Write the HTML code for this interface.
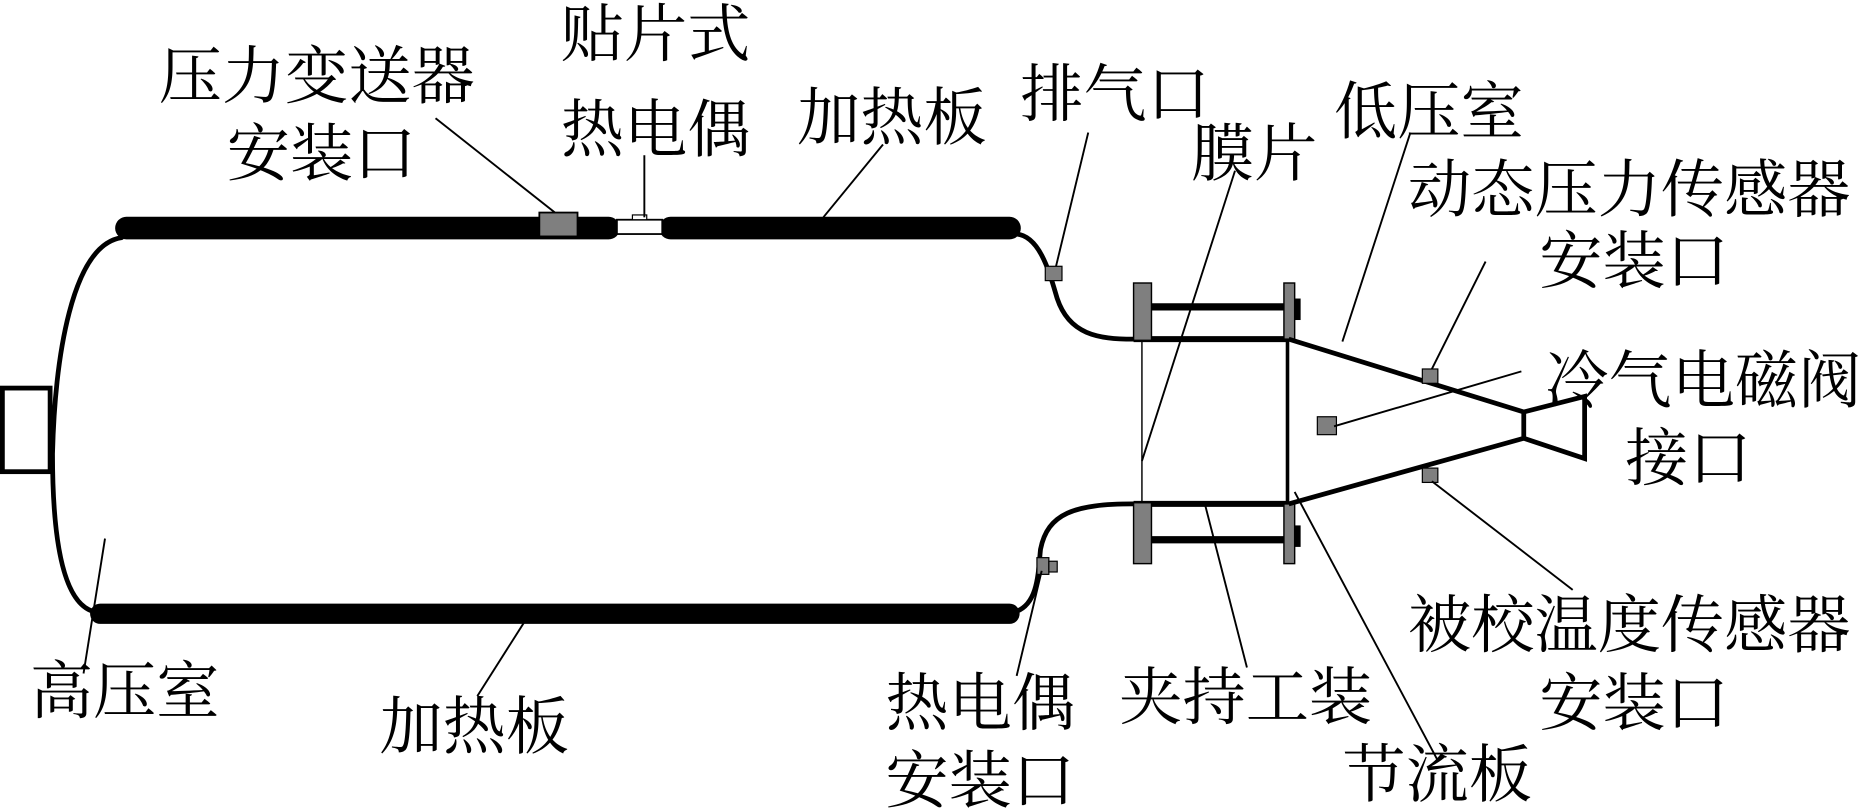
<!DOCTYPE html>
<html><head><meta charset="utf-8"><style>
html,body{margin:0;padding:0;background:#fff;width:1871px;height:812px;overflow:hidden}
svg{display:block}
text{font-family:"Liberation Serif","Noto Serif CJK SC",serif;font-size:53px;fill:#000}
</style></head><body>
<svg width="1871" height="812" viewBox="0 0 1568 680" preserveAspectRatio="none">
<g fill="none" stroke="#000" stroke-linecap="round">
<!-- vessel outline -->
<path d="M852,196 C872,198 880,230 886,250 C896,280 920,284 950,284" stroke-width="4"/>
<path d="M102,199 C60,205 46,300 44,380 C44,460 55,505 78,512" stroke-width="4"/>
<path d="M852,512 C870,505 870,480 872,460 C878,430 900,422 950,422" stroke-width="4"/>
<!-- heater bars -->
<line x1="106" y1="191" x2="510" y2="191" stroke-width="19"/>
<line x1="562" y1="191" x2="846" y2="191" stroke-width="19"/>
<line x1="84" y1="514" x2="846" y2="514" stroke-width="17"/>
</g>
<!-- left box -->
<rect x="2" y="325" width="40" height="70" fill="#fff" stroke="#000" stroke-width="4"/>
<!-- top sensors -->
<rect x="452" y="178" width="32" height="20" fill="#7f7f7f" stroke="#000" stroke-width="1.5"/>
<rect x="517" y="184" width="38" height="12" fill="#fff" stroke="#000" stroke-width="1.5"/>
<rect x="530" y="180" width="12" height="4" fill="#fff" stroke="#000" stroke-width="1"/>
<!-- vent & thermocouple ports -->
<rect x="876" y="223" width="14" height="12" fill="#7f7f7f" stroke="#000" stroke-width="1"/>
<rect x="869" y="467" width="10" height="14" fill="#7f7f7f" stroke="#000" stroke-width="1"/>
<rect x="879" y="470" width="7" height="9" fill="#7f7f7f" stroke="#000" stroke-width="1"/>
<!-- clamp -->
<g stroke="#000">
<line x1="950" y1="284" x2="1080" y2="284" stroke-width="5"/>
<line x1="950" y1="422" x2="1080" y2="422" stroke-width="5"/>
<line x1="965" y1="257" x2="1076" y2="257" stroke-width="6"/>
<line x1="965" y1="452" x2="1076" y2="452" stroke-width="6"/>
<line x1="957" y1="284" x2="957" y2="422" stroke-width="1.2"/>
<line x1="1079" y1="284" x2="1079" y2="422" stroke-width="3"/>
</g>
<rect x="950" y="237" width="15" height="48" fill="#7f7f7f" stroke="#000" stroke-width="1.2"/>
<rect x="950" y="421" width="15" height="51" fill="#7f7f7f" stroke="#000" stroke-width="1.2"/>
<rect x="1076" y="237" width="9" height="47" fill="#7f7f7f" stroke="#000" stroke-width="1.2"/>
<rect x="1076" y="422" width="9" height="50" fill="#7f7f7f" stroke="#000" stroke-width="1.2"/>
<rect x="1085" y="250" width="5" height="18" fill="#000"/>
<rect x="1085" y="440" width="5" height="18" fill="#000"/>
<!-- cone & nozzle -->
<path d="M1080,284 L1277,345 L1277,367 L1080,422" fill="none" stroke="#000" stroke-width="4"/>
<path d="M1277,345 L1328,332 L1328,384 L1277,367" fill="none" stroke="#000" stroke-width="4"/>
<rect x="1192" y="309" width="13" height="12" fill="#7f7f7f" stroke="#000" stroke-width="1"/>
<rect x="1192" y="392" width="13" height="12" fill="#7f7f7f" stroke="#000" stroke-width="1"/>
<rect x="1104" y="349" width="16" height="15" fill="#7f7f7f" stroke="#000" stroke-width="1"/>
<!-- leader lines -->
<g stroke="#000" stroke-width="1.6">
<line x1="365" y1="99" x2="465" y2="178"/>
<line x1="540" y1="130" x2="540" y2="182"/>
<line x1="740" y1="121" x2="690" y2="182"/>
<line x1="912" y1="111" x2="885" y2="223"/>
<line x1="1035" y1="143" x2="957" y2="386"/>
<line x1="1182" y1="111" x2="1125" y2="286"/>
<line x1="1245" y1="219" x2="1200" y2="309"/>
<line x1="1275" y1="311" x2="1118" y2="357"/>
<line x1="1200" y1="403" x2="1318" y2="494"/>
<line x1="1085" y1="412" x2="1205" y2="637"/>
<line x1="1010" y1="423" x2="1045" y2="559"/>
<line x1="873" y1="478" x2="852" y2="566"/>
<line x1="440" y1="520" x2="400" y2="583"/>
<line x1="88" y1="451" x2="70" y2="564"/>
</g>
<!-- labels -->
<text x="133" y="82">压力变送器</text>
<text x="190" y="147">安装口</text>
<text x="470" y="47">贴片式</text>
<text x="470" y="127">热电偶</text>
<text x="668" y="117">加热板</text>
<text x="855" y="97">排气口</text>
<text x="998" y="147">膜片</text>
<text x="1118" y="112">低压室</text>
<text x="1180" y="177">动态压力传感器</text>
<text x="1290" y="237">安装口</text>
<text x="1295" y="337">冷气电磁阀</text>
<text x="1362" y="402">接口</text>
<text x="1180" y="542">被校温度传感器</text>
<text x="1290" y="607">安装口</text>
<text x="1125" y="667">节流板</text>
<text x="938" y="602">夹持工装</text>
<text x="742" y="607">热电偶</text>
<text x="742" y="672">安装口</text>
<text x="318" y="627">加热板</text>
<text x="25" y="597">高压室</text>
</svg>
</body></html>
